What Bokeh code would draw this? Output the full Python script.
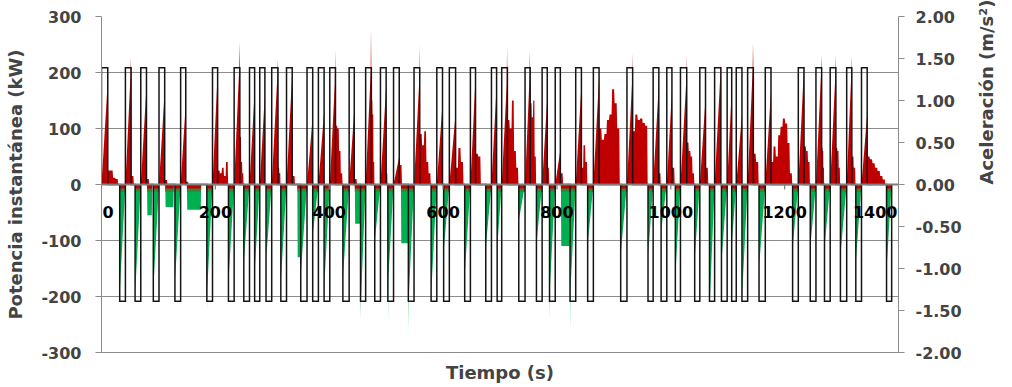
import math
from bokeh.plotting import figure
from bokeh.models import Range1d, LinearAxis, FixedTicker, NumeralTickFormatter, Span
from bokeh.core.properties import value
from bokeh.embed import file_html
from bokeh.resources import INLINE

# ---------------- data ----------------
# acceleration pulses (s)
acc_start = [0, 42, 69, 101, 139, 195, 233, 260, 278, 299, 325, 361, 381, 401, 435, 464, 490, 513, 549, 589, 611, 648,
             685, 703, 744, 774, 797, 833, 864, 923, 969, 993, 1017, 1051, 1077, 1099, 1115, 1135, 1166, 1224, 1255,
             1280, 1309, 1335]
acc_end = [11, 52, 79, 111, 148, 204, 243, 269, 287, 310, 335, 371, 391, 411, 444, 474, 500, 523, 559, 599, 622, 657,
           694, 713, 753, 783, 806, 843, 874, 933, 979, 1002, 1028, 1061, 1088, 1107, 1125, 1145, 1176, 1234, 1265,
           1290, 1318, 1345]
# deceleration pulses (s)
dec_start = [32, 59, 91, 129, 185, 223, 250, 269, 289, 315, 350, 371, 391, 424, 455, 480, 503, 539, 579, 601, 638, 675,
             695, 733, 764, 787, 823, 854, 912, 960, 983, 1008, 1042, 1068, 1089, 1107, 1125, 1155, 1214, 1245, 1270,
             1298, 1325, 1379]
dec_end = [42, 69, 101, 139, 195, 233, 260, 278, 299, 325, 361, 381, 401, 435, 464, 490, 513, 549, 589, 611, 648, 685,
           703, 744, 774, 797, 833, 864, 923, 969, 993, 1017, 1051, 1077, 1099, 1115, 1135, 1166, 1224, 1255, 1280,
           1309, 1335, 1388]
accel_pos = 1.39   # m/s2
accel_neg = -1.39  # m/s2

# power peaks at end of each acceleration (kW)
acc_peak_kw = [185, 200, 175, 168, 145, 200, 215, 168, 162, 200, 200, 122, 130, 186, 133, 209, 177, 50, 186, 145, 127,
               192, 177, 186, 198, 156, 62, 177, 192, 186, 180, 168, 186, 153, 215, 168, 127, 215, 168, 212, 203, 198,
               200, 127]
acc_tip_kw = [0, 227, 0, 0, 0, 0, 254, 0, 0, 224, 0, 0, 0, 242, 0, 281, 0, 0, 250, 0, 0, 0,
              0, 248, 239, 0, 0, 0, 0, 236, 0, 0, 233, 0, 0, 0, 0, 254, 0, 0, 233, 233, 230, 0]
# power after each acceleration (kW, ~4 s steps)
after_kw = [[25, 25, 12, 10], [15], [10], [8], [5], [25, 20, 30, 15, 40], [85, 40, 20], [20], [30], [30, 20], [15],
            [10], [30], [105, 100, 60, 20], [10], [150, 125, 40], [20], [35], [90, 70, 95, 40, 20], [10],
            [30, 65, 40], [55, 50], [40], [115, 100, 150, 60, 30], [145, 120, 150, 50], [30], [20], [30, 70, 40],
            [100, 80, 90, 115, 125, 170, 145, 100], [95, 125, 115, 118, 110, 105], [20], [30], [75, 60, 50, 20],
            [30], [30], [20], [20], [55, 40], [40, 68, 50, 88, 103, 118, 109, 74, 20], [68, 60, 40], [65, 60, 30],
            [65, 60, 30], [50, 30], [50, 45, 38, 30, 24, 15, 9]]
# regenerative power peaks at start of each deceleration (kW)
dec_peak_kw = [-186, -190, -180, -168, -186, -168, -133, -150, -133, -168, -156, -86, -180, -162, -204, -97, -168,
               -198, -192, -115, -156, -109, -109, -62, -103, -180, -186, -103, -121, -127, -80, -156, -127, -215,
               -133, -103, -198, -145, -109, -109, -109, -121, -133, -145]
dec_tip_kw = [0, 0, 0, 0, -227, 0, 0, 0, 0, 0, 0, 0, 0, 0, -239, 0, -245, -262, 0, 0, 0, 0,
              0, 0, 0, -245, -262, 0, 0, 0, 0, 0, 0, 0, 0, 0, 0, 0, 0, 0, 0, 0, 0, 0]
# other braking stretches (s, s, kW)
brake_t0 = [80, 112, 150, 344, 445, 526, 807]
brake_t1 = [89, 127, 175, 350, 455, 539, 823]
brake_kw = [-55, -40, -45, -130, -70, -105, -110]

x_ticks = [0, 200, 400, 600, 800, 1000, 1200, 1400]
x_tick_labels = ["0", "200", "400", "600", "800", "1000", "1200", "1400"]
y_ticks = [-300, -200, -100, 0, 100, 200, 300]
acc_ticks = [-2.0, -1.5, -1.0, -0.5, 0.0, 0.5, 1.0, 1.5, 2.0]

RED = "#C00000"
GREEN = "#00B050"
DKGREEN = "#3C7F36"
GRID = "#8c8c8c"
FONT = "DejaVu Sans"

# ---------------- build series geometry ----------------
pos_t, pos_p = [], []
for i in range(len(acc_start)):
    s, e, pk, tip = acc_start[i], acc_end[i], acc_peak_kw[i], acc_tip_kw[i]
    pos_t.append(s); pos_p.append(0)
    if tip:
        pos_t += [e - 1.2, e - 0.6, e]
        pos_p += [pk * 0.96, tip, pk]
    else:
        pos_t.append(e); pos_p.append(pk)
    after = after_kw[i]
    gap = dec_start[i] - e
    if gap > 2 and after:
        dt = min(4.5, (gap - 1.0) / len(after))
        t = e + 0.4
        for v in after:
            pos_t += [t, t + dt * 0.8]
            pos_p += [v, v]
            t += dt
        pos_t.append(min(t, dec_start[i])); pos_p.append(0)
    else:
        pos_t.append(e + 0.3); pos_p.append(0)

segs = []
for i in range(len(dec_start)):
    s, e, pk, tip = dec_start[i], dec_end[i], dec_peak_kw[i], dec_tip_kw[i]
    if tip:
        segs.append((s, [s, s + 0.3, s + 0.9, e], [0, tip, pk, 0]))
    else:
        segs.append((s, [s, s + 0.4, e], [0, pk, 0]))
for a, b, v in zip(brake_t0, brake_t1, brake_kw):
    segs.append((a, [a, a + 0.6, b - 0.6, b], [0, v, v, 0]))
segs.sort(key=lambda q: q[0])
neg_t, neg_p = [], []
for _, ts, vs in segs:
    neg_t += ts
    neg_p += vs

acc_t, acc_v = [], []
pulses = [(s, e, accel_pos) for s, e in zip(acc_start, acc_end)] + \
         [(s, e, accel_neg) for s, e in zip(dec_start, dec_end)]
pulses.sort(key=lambda q: (q[0], q[2] > 0))
for s, e, lv in pulses:
    acc_t += [s, s, e, e]
    acc_v += [0, lv, lv, 0]

# ---------------- figure ----------------
p = figure(width=1010, height=385, x_range=Range1d(0, 1400), y_range=Range1d(-300, 300),
           output_backend="svg", toolbar_location=None,
           min_border_left=101, min_border_right=101, min_border_top=16, min_border_bottom=30)
p.outline_line_color = None
p.background_fill_color = "white"
p.border_fill_color = "white"
p.xgrid.visible = False
p.ygrid.ticker = FixedTicker(ticks=y_ticks)
p.ygrid.grid_line_color = GRID
p.ygrid.grid_line_width = 1.2

# left axis
ya = p.yaxis[0]
ya.ticker = FixedTicker(ticks=y_ticks)
ya.formatter = NumeralTickFormatter(format="0")
ya.axis_label = "Potencia instantánea (kW)"
ya.axis_label_text_font = FONT
ya.axis_label_text_font_style = "bold"
ya.axis_label_text_font_size = "18px"
ya.axis_label_standoff = 12
ya.major_label_text_font = FONT
ya.major_label_text_font_style = "bold"
ya.major_label_text_font_size = "16px"
ya.major_label_standoff = 14
ya.axis_line_color = GRID
ya.major_tick_line_color = GRID
ya.major_tick_out = 6
ya.major_tick_in = 0
ya.minor_tick_line_color = None

# bottom axis: only the title
xa = p.xaxis[0]
xa.ticker = FixedTicker(ticks=[])
xa.axis_label = "Tiempo (s)"
xa.axis_label_text_font = FONT
xa.axis_label_text_font_style = "bold"
xa.axis_label_text_font_size = "18px"
xa.axis_label_standoff = 9
xa.major_label_standoff = 0
xa.axis_line_color = GRID
xa.major_tick_line_color = None
xa.minor_tick_line_color = None
xa.major_label_text_font_size = "0px"

# right axis
p.extra_y_ranges = {"acc": Range1d(-2, 2)}
ra = LinearAxis(y_range_name="acc", ticker=FixedTicker(ticks=acc_ticks),
                formatter=NumeralTickFormatter(format="0.00"))
ra.axis_label = "Aceleración (m/s²)"
ra.axis_label_text_font = FONT
ra.axis_label_text_font_style = "bold"
ra.axis_label_text_font_size = "18px"
ra.axis_label_standoff = 22
if hasattr(ra, "axis_label_orientation"):
    ra.axis_label_orientation = math.pi / 2
ra.major_label_text_font = FONT
ra.major_label_text_font_style = "bold"
ra.major_label_text_font_size = "16px"
ra.major_label_standoff = 11
ra.axis_line_color = GRID
ra.major_tick_line_color = GRID
ra.major_tick_out = 6
ra.major_tick_in = 0
ra.minor_tick_line_color = None
p.add_layout(ra, "right")

# series
p.varea(x=neg_t, y1=0, y2=neg_p, fill_color=GREEN)
p.varea(x=pos_t, y1=0, y2=pos_p, fill_color=RED)
band_l = dec_start + brake_t0
band_r = dec_end + brake_t1
p.quad(left=band_l, right=band_r, top=0, bottom=-7.5, fill_color=RED, line_color=None)
p.quad(left=band_l, right=band_r, top=-7.5, bottom=-13, fill_color=DKGREEN, line_color=None)
p.line(x=acc_t, y=acc_v, y_range_name="acc", line_color="#141414", line_width=1.5, line_join="miter")

# x axis at zero
p.add_layout(Span(location=0, dimension="width", line_color="#7f7f7f", line_width=2.2))
p.segment(x0=x_ticks, y0=[0] * len(x_ticks), x1=x_ticks, y1=[-9] * len(x_ticks),
          line_color="#7f7f7f", line_width=1.2)
txt = dict(text_baseline="top", y_offset=21, text_font=value(FONT), text_font_style="bold",
           text_font_size="16px", text_color="black")
p.text(x=x_ticks[1:-1], y=[0] * (len(x_ticks) - 2), text=x_tick_labels[1:-1], text_align="center", **txt)
p.text(x=x_ticks[:1], y=[0], text=x_tick_labels[:1], text_align="left", x_offset=1, **txt)
p.text(x=x_ticks[-1:], y=[0], text=x_tick_labels[-1:], text_align="right", x_offset=-1, **txt)

open("out.html", "w").write(file_html(p, INLINE))
